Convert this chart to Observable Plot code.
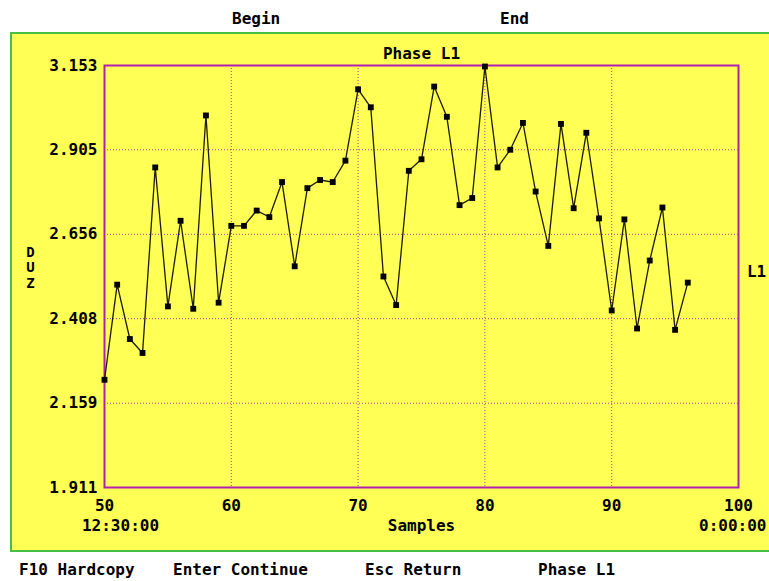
<!DOCTYPE html>
<html>
<head>
<meta charset="utf-8">
<script src="https://cdn.jsdelivr.net/npm/d3@7"></script>
<script src="https://cdn.jsdelivr.net/npm/@observablehq/plot@0.6"></script>
<style>
  body { margin: 0; background: #ffffff; }
  #screen {
    position: relative; width: 769px; height: 581px; overflow: hidden;
    font-family: "DejaVu Sans Mono", monospace; font-weight: bold; font-size: 16px; color: #000;
  }
  .lbl { position: absolute; white-space: pre; line-height: 16px; }
  #panel {
    position: absolute; left: 10px; top: 32px; width: 759px; height: 520px;
    background: #ffff55; box-sizing: border-box;
    border: 2px solid #44c044; border-right: none;
  }
  #chart { position: absolute; left: 10px; top: 32px; }
  .h0 { left: 232px; top: 11px; }
  .h1 { left: 500px; top: 11px; }
  .m0 { left: 19px;  top: 562px; }
  .m1 { left: 173px; top: 562px; }
  .m2 { left: 365px; top: 562px; }
  .m3 { left: 538px; top: 562px; }
</style>
</head>
<body>
<div id="screen">
  <div id="panel"></div>
  <div id="chart"></div>
</div>
<script>
// Phase L1 distortion readings per sample
const samples = [50, 51, 52, 53, 54, 55, 56, 57, 58, 59,
                 60, 61, 62, 63, 64, 65, 66, 67, 68, 69,
                 70, 71, 72, 73, 74, 75, 76, 77, 78, 79,
                 80, 81, 82, 83, 84, 85, 86, 87, 88, 89,
                 90, 91, 92, 93, 94, 95, 96];
const values = [2.228, 2.508, 2.348, 2.307, 2.853, 2.444, 2.696, 2.437, 3.006, 2.455,
                2.681, 2.681, 2.726, 2.707, 2.810, 2.562, 2.792, 2.816, 2.810, 2.873,
                3.083, 3.030, 2.532, 2.448, 2.843, 2.877, 3.091, 3.002, 2.742, 2.763,
                3.150, 2.853, 2.905, 2.984, 2.782, 2.622, 2.981, 2.733, 2.955, 2.703,
                2.432, 2.700, 2.379, 2.579, 2.735, 2.375, 2.514];

const xTicks = [50, 60, 70, 80, 90, 100];
const yTicks = [1.911, 2.159, 2.408, 2.656, 2.905, 3.153];
const yTickLabels = ["1.911", "2.159", "2.408", "2.656", "2.905", "3.153"];

const headerLabels = ["Begin", "End"];
const menuLabels = ["F10 Hardcopy", "Enter Continue", "Esc Return", "Phase L1"];
const chartTitle = "Phase L1";
const xLabel = "Samples";
const startTime = "12:30:00";
const endTime = "0:00:00";
const unitLabel = "D\nU\nZ";
const seriesName = "L1";

const rows = samples.map((s, i) => ({sample: s, value: values[i]}));

const gridColor = "#b020b0";
const font = {fontFamily: "DejaVu Sans Mono, monospace", fontSize: 16, fontWeight: "bold", fill: "#000"};

const chart = Plot.plot({
  width: 759,
  height: 520,
  marginLeft: 94,
  marginRight: 31,
  marginTop: 33,
  marginBottom: 65,
  style: {background: "transparent", fontFamily: "DejaVu Sans Mono, monospace", fontSize: "16px", fontWeight: "bold", color: "#000"},
  x: {domain: [50, 100]},
  y: {domain: [1.911, 3.153]},
  marks: [
    Plot.gridX(xTicks, {stroke: gridColor, strokeOpacity: 0.9, strokeDasharray: "1,2"}),
    Plot.gridY(yTicks, {stroke: gridColor, strokeOpacity: 0.9, strokeDasharray: "1,2"}),
    Plot.frame({stroke: gridColor, strokeWidth: 2}),
    Plot.axisX(xTicks, {tickSize: 0, tickPadding: 12, label: null, ...font}),
    Plot.axisY(yTicks, {tickSize: 0, tickPadding: 7, label: null, tickFormat: d => yTickLabels[yTicks.indexOf(d)], ...font}),
    Plot.line(rows, {x: "sample", y: "value", stroke: "#1c1c00", strokeWidth: 1.3}),
    Plot.dot(rows, {x: "sample", y: "value", symbol: "square", r: 3.3, fill: "#000", stroke: "none"}),
    Plot.text([chartTitle], {frameAnchor: "top", dy: -18, ...font}),
    Plot.text([xLabel], {frameAnchor: "bottom", dy: 43, ...font}),
    Plot.text([startTime], {frameAnchor: "bottom-left", dx: 16, dy: 43, textAnchor: "middle", ...font}),
    Plot.text([endTime], {frameAnchor: "bottom-right", dx: 28, dy: 43, textAnchor: "end", ...font}),
    Plot.text([seriesName], {frameAnchor: "right", dx: 18, dy: -5, textAnchor: "middle", ...font}),
    Plot.text([unitLabel], {frameAnchor: "left", dx: -74, dy: -9, textAnchor: "middle", lineHeight: 1.1, ...font, fontSize: 14})
  ]
});
document.getElementById("chart").appendChild(chart);

// Header and function-key rows on the white screen area
const screen = document.getElementById("screen");
headerLabels.forEach((t, i) => {
  const d = document.createElement("div");
  d.className = "lbl h" + i;
  d.textContent = t;
  screen.appendChild(d);
});
menuLabels.forEach((t, i) => {
  const d = document.createElement("div");
  d.className = "lbl m" + i;
  d.textContent = t;
  screen.appendChild(d);
});
</script>
</body>
</html>
